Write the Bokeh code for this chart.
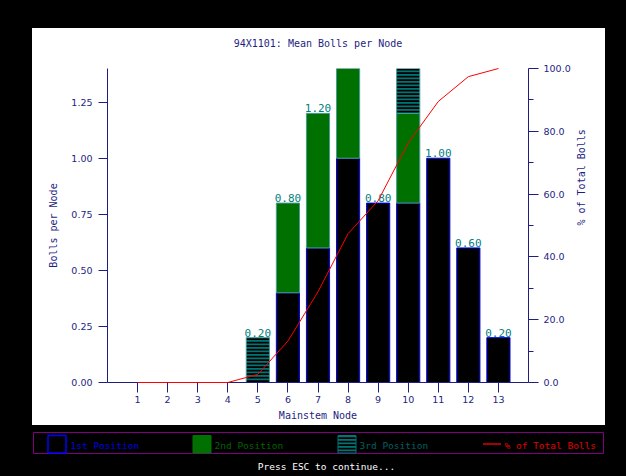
import math
from bokeh.plotting import figure
from bokeh.models import Range1d, LinearAxis, FixedTicker, PrintfTickFormatter, ColumnDataSource, GlobalInlineStyleSheet
from bokeh.layouts import column, row
from bokeh.embed import file_html
from bokeh.resources import INLINE
from bokeh.core.properties import value

# ---- data ----
nodes = [1, 2, 3, 4, 5, 6, 7, 8, 9, 10, 11, 12, 13]
first_pos = [0, 0, 0, 0, 0, 0.4, 0.6, 1.0, 0.8, 0.8, 1.0, 0.6, 0.2]
second_pos = [0, 0, 0, 0, 0, 0.4, 0.6, 0.4, 0.0, 0.4, 0.0, 0.0, 0.0]
third_pos = [0, 0, 0, 0, 0.2, 0, 0, 0, 0, 0.2, 0, 0, 0]
pct_total = [0, 0, 0, 0, 2.6, 13.2, 28.9, 47.4, 57.9, 76.3, 89.5, 97.4, 100.0]
left_ticks = [0, 0.25, 0.5, 0.75, 1.0, 1.25]
right_ticks = [0, 20, 40, 60, 80, 100]
right_minor = [10, 30, 50, 70, 90]
legend_labels = ["1st Position", "2nd Position", "3rd Position", "% of Total Bolls"]
title_text = "94X1101: Mean Bolls per Node"

NAVY = "#1e1e82"
GREEN = "#007000"
TEAL = "#007474"
BLUE = "#0000ff"
RED = "#ff0000"
MONO = "DejaVu Sans Mono"
SANS = "DejaVu Sans"
YMAX = 1.4

# ---- header (title) strip ----
h = figure(width=573, height=32, x_range=Range1d(0, 573), y_range=Range1d(32, 0),
           output_backend="svg", toolbar_location=None, min_border=0,
           x_axis_location=None, y_axis_location=None,
           background_fill_color="white", border_fill_color="white", outline_line_color=None,
           margin=(0, 0, 0, 0))
h.grid.visible = False
h.text(x=[285.5], y=[14.5], text=[title_text], text_color=NAVY, text_font=value(MONO),
       text_font_size="10px", text_align="center", text_baseline="middle")

# ---- main chart ----
p = figure(width=573, height=365, x_range=Range1d(0, 14), y_range=Range1d(0, YMAX),
           output_backend="svg", toolbar_location=None,
           min_border_left=75, min_border_right=77, min_border_top=8, min_border_bottom=43,
           background_fill_color="white", border_fill_color="white", outline_line_color=None,
           margin=(0, 0, 0, 0))
p.grid.visible = False
p.extra_y_ranges = {"pct": Range1d(0, 100)}

def style_axis(ax, tick_out):
    ax.axis_line_color = NAVY
    ax.major_tick_line_color = NAVY
    ax.minor_tick_line_color = NAVY
    ax.major_tick_in = 0
    ax.major_tick_out = tick_out
    ax.minor_tick_in = 0
    ax.minor_tick_out = 5
    ax.major_label_text_font = SANS
    ax.major_label_text_font_size = "9.5px"
    ax.major_label_text_color = NAVY
    ax.axis_label_text_font = MONO
    ax.axis_label_text_font_size = "10px"
    ax.axis_label_text_font_style = "normal"
    ax.axis_label_text_color = NAVY

xa = p.xaxis[0]
xa.ticker = FixedTicker(ticks=nodes, minor_ticks=[])
xa.axis_label = "Mainstem Node"
style_axis(xa, 10)
xa.major_label_standoff = 3
xa.axis_label_standoff = 4

ya = p.yaxis[0]
ya.ticker = FixedTicker(ticks=left_ticks, minor_ticks=[])
ya.formatter = PrintfTickFormatter(format="%.2f")
ya.axis_label = "Bolls per Node"
style_axis(ya, 9)
ya.major_label_standoff = 6
ya.axis_label_standoff = 9

ra = LinearAxis(y_range_name="pct", ticker=FixedTicker(ticks=right_ticks, minor_ticks=right_minor),
                formatter=PrintfTickFormatter(format="%.1f"), axis_label="% of Total Bolls")
style_axis(ra, 10)
ra.major_label_standoff = 5
ra.axis_label_standoff = 8
ra.axis_label_orientation = math.pi / 2
p.add_layout(ra, "right")

# stacked segments
b1 = [0.0] * len(nodes)
t1 = [first_pos[i] for i in range(len(nodes))]
t2 = [t1[i] + second_pos[i] for i in range(len(nodes))]
t3 = [t2[i] + third_pos[i] for i in range(len(nodes))]

def seg_source(bottoms, tops, vals):
    idx = [i for i in range(len(nodes)) if vals[i] > 0]
    return ColumnDataSource(dict(x=[nodes[i] for i in idx], bottom=[bottoms[i] for i in idx],
                                 top=[tops[i] for i in idx]))

W = 0.77
p.vbar(x="x", bottom="bottom", top="top", width=W, source=seg_source(b1, t1, first_pos),
       fill_color="black", line_color=BLUE, line_width=1)
p.vbar(x="x", bottom="bottom", top="top", width=W, source=seg_source(t1, t2, second_pos),
       fill_color=GREEN, line_color="#4a9a9a", line_width=1)
p.vbar(x="x", bottom="bottom", top="top", width=W, source=seg_source(t2, t3, third_pos),
       fill_color=TEAL, line_color="#4a9a9a", line_width=1,
       hatch_pattern="horizontal_line", hatch_color="black", hatch_weight=2, hatch_scale=3.5)

p.line(nodes, pct_total, y_range_name="pct", line_color=RED, line_width=1, level="overlay")

lab_idx = [i for i in range(len(nodes)) if 0 < t3[i] < YMAX]
lab_src = ColumnDataSource(dict(x=[nodes[i] for i in lab_idx], y=[t3[i] for i in lab_idx],
                                t=["%.2f" % t3[i] for i in lab_idx]))
p.text(x="x", y="y", text="t", source=lab_src, text_align="center", text_baseline="bottom",
       y_offset=-1, text_font=value(MONO), text_font_size="11px", text_color="#008080")

# ---- legend / footer strip ----
q = figure(width=626, height=51, x_range=Range1d(0, 626), y_range=Range1d(51, 0),
           output_backend="svg", toolbar_location=None, min_border=0,
           x_axis_location=None, y_axis_location=None,
           background_fill_color="black", border_fill_color="black", outline_line_color=None,
           margin=(0, 0, 0, 0))
q.grid.visible = False

q.quad(left=[33], right=[603], top=[7], bottom=[28], fill_color=None, line_color="#800080", line_width=1)
q.quad(left=[47.5], right=[65.5], top=[10], bottom=[27.5], fill_color=None, line_color=BLUE, line_width=1.5)
q.quad(left=[192.5], right=[210.5], top=[10], bottom=[27.5], fill_color=GREEN, line_color=GREEN)
q.quad(left=[337.5], right=[355.5], top=[10], bottom=[27.5], fill_color=TEAL, line_color=TEAL,
       hatch_pattern="horizontal_line", hatch_color="black", hatch_weight=2, hatch_scale=3.5)
q.line([482.5, 500.5], [18.5, 18.5], line_color="#e00000", line_width=1.5)

q.text(x=[70, 214, 359, 504], y=[19.5, 19.5, 19.5, 19.5], text=legend_labels,
       text_color=["#0000e0", "#006400", "#006060", "#e00000"],
       text_font=value(MONO), text_font_size="9.5px", text_baseline="middle", text_align="left")
q.text(x=[326], y=[41], text=["Press ESC to continue..."], text_color="white",
       text_font=value(MONO), text_font_size="9.5px", text_baseline="middle", text_align="center")

panel = column(row(h), p, width=573, height=397, spacing=0,
               margin=(28, 21, 0, 32), styles={"background-color": "white"})
root = column(panel, row(q), width=626, height=476, spacing=0)
root.stylesheets = [GlobalInlineStyleSheet(css="html, body { background-color: black; overflow: hidden; }")]

open("out.html", "w").write(file_html(root, INLINE))
